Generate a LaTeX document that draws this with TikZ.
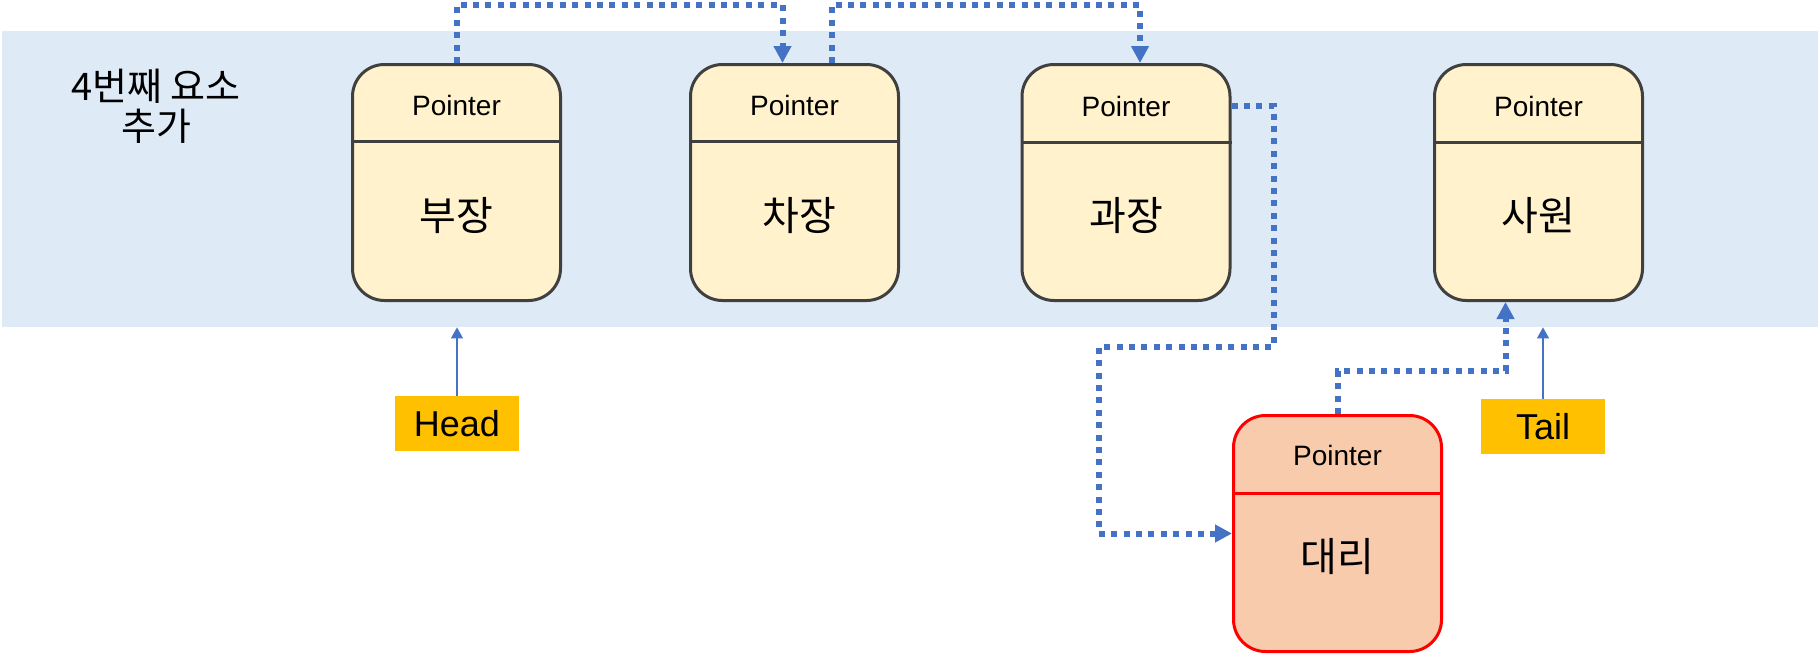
\documentclass[tikz,border=0pt]{standalone}
\usepackage{xcolor}
\usepackage{fontspec}
\setmainfont{Liberation Sans}
\newfontfamily\kor{Noto Sans CJK KR}
\usepackage{tikz}
\usetikzlibrary{arrows.meta, positioning, calc}

\definecolor{bandblue}{RGB}{222,234,246}
\definecolor{nodefill}{RGB}{255,242,204}
\definecolor{nodeline}{RGB}{64,64,64}
\definecolor{newfill}{RGB}{248,203,173}
\definecolor{tagfill}{RGB}{255,192,0}
\definecolor{linkblue}{RGB}{68,114,196}

\begin{document}
\begin{tikzpicture}[x=1pt, y=-1pt,
	listnode/.style={draw=nodeline, fill=nodefill, line width=3pt, rounded corners=32pt, minimum width=208pt, minimum height=236pt, inner sep=0pt},
	newnode/.style={listnode, draw=red},
	ptrlabel/.style={font=\fontsize{28}{30}\selectfont, inner sep=0pt},
	vallabel/.style={font=\kor\fontsize{40}{42}\selectfont, inner sep=0pt},
	tagbox/.style={fill=tagfill, minimum width=124pt, minimum height=55pt, inner sep=0pt, font=\fontsize{36}{38}\selectfont},
	ptrlink/.style={linkblue, line width=6pt, dash pattern=on 6pt off 6.4pt, -{Triangle[width=17pt,length=17pt]}},
	tagarrow/.style={linkblue, line width=1.3pt, -{Triangle[width=12pt,length=11pt]}}]
				
				\useasboundingbox (0,0) rectangle (1818,656);
				
				% Background band
				\node[fill=bandblue, minimum width=1816pt, minimum height=296pt, inner sep=0pt, anchor=north west] (band) at (2,31) {};
				\node[font=\kor\fontsize{38}{40}\selectfont, align=center] (title) at (156,106) {4번째 요소\\추가};
				
				% List elements
				\node[listnode] (bujang) at (456.5,182.5) {};
				\draw[nodeline, line width=3pt] (bujang.west |- 0,141) -- (bujang.east |- 0,141);
				\node[ptrlabel] (bujangptr) at (456.5,105) {Pointer};
				\node[vallabel] (bujangval) at (456.5,216) {부장};
				
				\node[listnode] (chajang) at (794.5,182.5) {};
				\draw[nodeline, line width=3pt] (chajang.west |- 0,141) -- (chajang.east |- 0,141);
				\node[ptrlabel] (chajangptr) at (794.5,105) {Pointer};
				\node[vallabel] (chajangval) at (799,216) {차장};
				
				\node[listnode] (gwajang) at (1126,182.5) {};
				\draw[nodeline, line width=3pt] (gwajang.west |- 0,142) -- (gwajang.east |- 0,142);
				\node[ptrlabel] (gwajangptr) at (1126,106) {Pointer};
				\node[vallabel] (gwajangval) at (1126,216) {과장};
				
				\node[listnode] (sawon) at (1538.5,182.5) {};
				\draw[nodeline, line width=3pt] (sawon.west |- 0,142) -- (sawon.east |- 0,142);
				\node[ptrlabel] (sawonptr) at (1538.5,106) {Pointer};
				\node[vallabel] (sawonval) at (1538.5,216) {사원};
				
				% New element
				\node[newnode, fill=newfill] (daeri) at (1337.5,533.5) {};
				\draw[red, line width=3pt] (daeri.west |- 0,493) -- (daeri.east |- 0,493);
				\node[ptrlabel] (daeriptr) at (1337.5,455) {Pointer};
				\node[vallabel] (daerival) at (1337.5,557) {대리};
				
				% Head and tail
				\node[tagbox] (head) at (457,423.5) {Head};
				\node[tagbox] (tail) at (1543,426.5) {Tail};
				\draw[tagarrow] (head.north) -- (head.north |- band.south);
				\draw[tagarrow] (tail.north) -- (tail.north |- band.south);
				
				% Pointer links
				\draw[ptrlink] (bujang.north) -- ++(0,-58) -| ([xshift=-12pt]chajang.north);
				\draw[ptrlink] ([xshift=37pt]chajang.north) -- ++(0,-58) -| ([xshift=14pt]gwajang.north);
				\draw[ptrlink] (gwajang.east |- gwajangptr) -- ++(42,0) -- ++(0,241) -- ++(-175,0) |- (daeri.west);
				\draw[ptrlink] (daeri.north) -- ++(0,-43) -| ([xshift=-33pt]sawon.south);
				
\end{tikzpicture}
\end{document}
